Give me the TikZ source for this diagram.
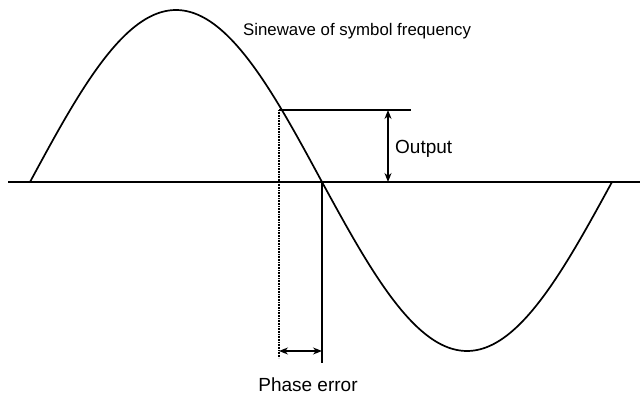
\documentclass[tikz,border=0pt]{standalone}
\usepackage{fontspec}
\setmainfont{Liberation Sans}
\usetikzlibrary{arrows.meta}
\begin{document}
\begin{tikzpicture}[x=1pt,y=-1pt,
  wave/.style={line width=1.7pt,line cap=round},
  axisline/.style={line width=1.6pt},
  thinline/.style={line width=1.3pt},
  dotline/.style={line width=1.3pt,dash pattern=on 0.8pt off 0.8pt},
  dimarrow/.style={line width=1.3pt,{Stealth[length=9pt,width=7pt]}-{Stealth[length=9pt,width=7pt]}},
  lbl/.style={inner sep=0pt,font=\fontsize{19}{22}\selectfont},
  title/.style={inner sep=0pt,font=\fontsize{16.8}{20}\selectfont}]
\useasboundingbox (0,0) rectangle (640,398);
% axis
\coordinate (axL) at (8,182);
\coordinate (axR) at (640,182);
\draw[axisline] (axL) -- (axR);
% sine wave
\draw[wave] plot[domain=30:322,samples=120,smooth] (\x,{182-172*sin((\x-30)/292*180)});
\draw[wave] plot[domain=322:612,samples=120,smooth] (\x,{182+169*sin((\x-322)/290*180)});
% reference points
\coordinate (pTop) at (279,110);
\coordinate (pTopR) at (411,110);
\coordinate (pDotB) at (279,358);
\coordinate (zc) at (322,182);
\coordinate (zcB) at (322,363);
\coordinate (oTop) at (388,110);
\coordinate (oBot) at (388,182);
\coordinate (peL) at (279,351);
\coordinate (peR) at (322,351);
\draw[thinline] (pTop) -- (pTopR);
\draw[dotline] (pTop) -- (pDotB);
\draw[thinline] (zc) -- (zcB);
\draw[dimarrow] (oTop) -- (oBot);
\draw[dimarrow] (peL) -- (peR);
% labels
\node[lbl,anchor=west] (out) at (395,149) {Output};
\node[lbl] (pe) at (308,385) {Phase error};
\node[title,anchor=west] (ttl) at (243,31) {Sinewave of symbol frequency};
\end{tikzpicture}
\end{document}
